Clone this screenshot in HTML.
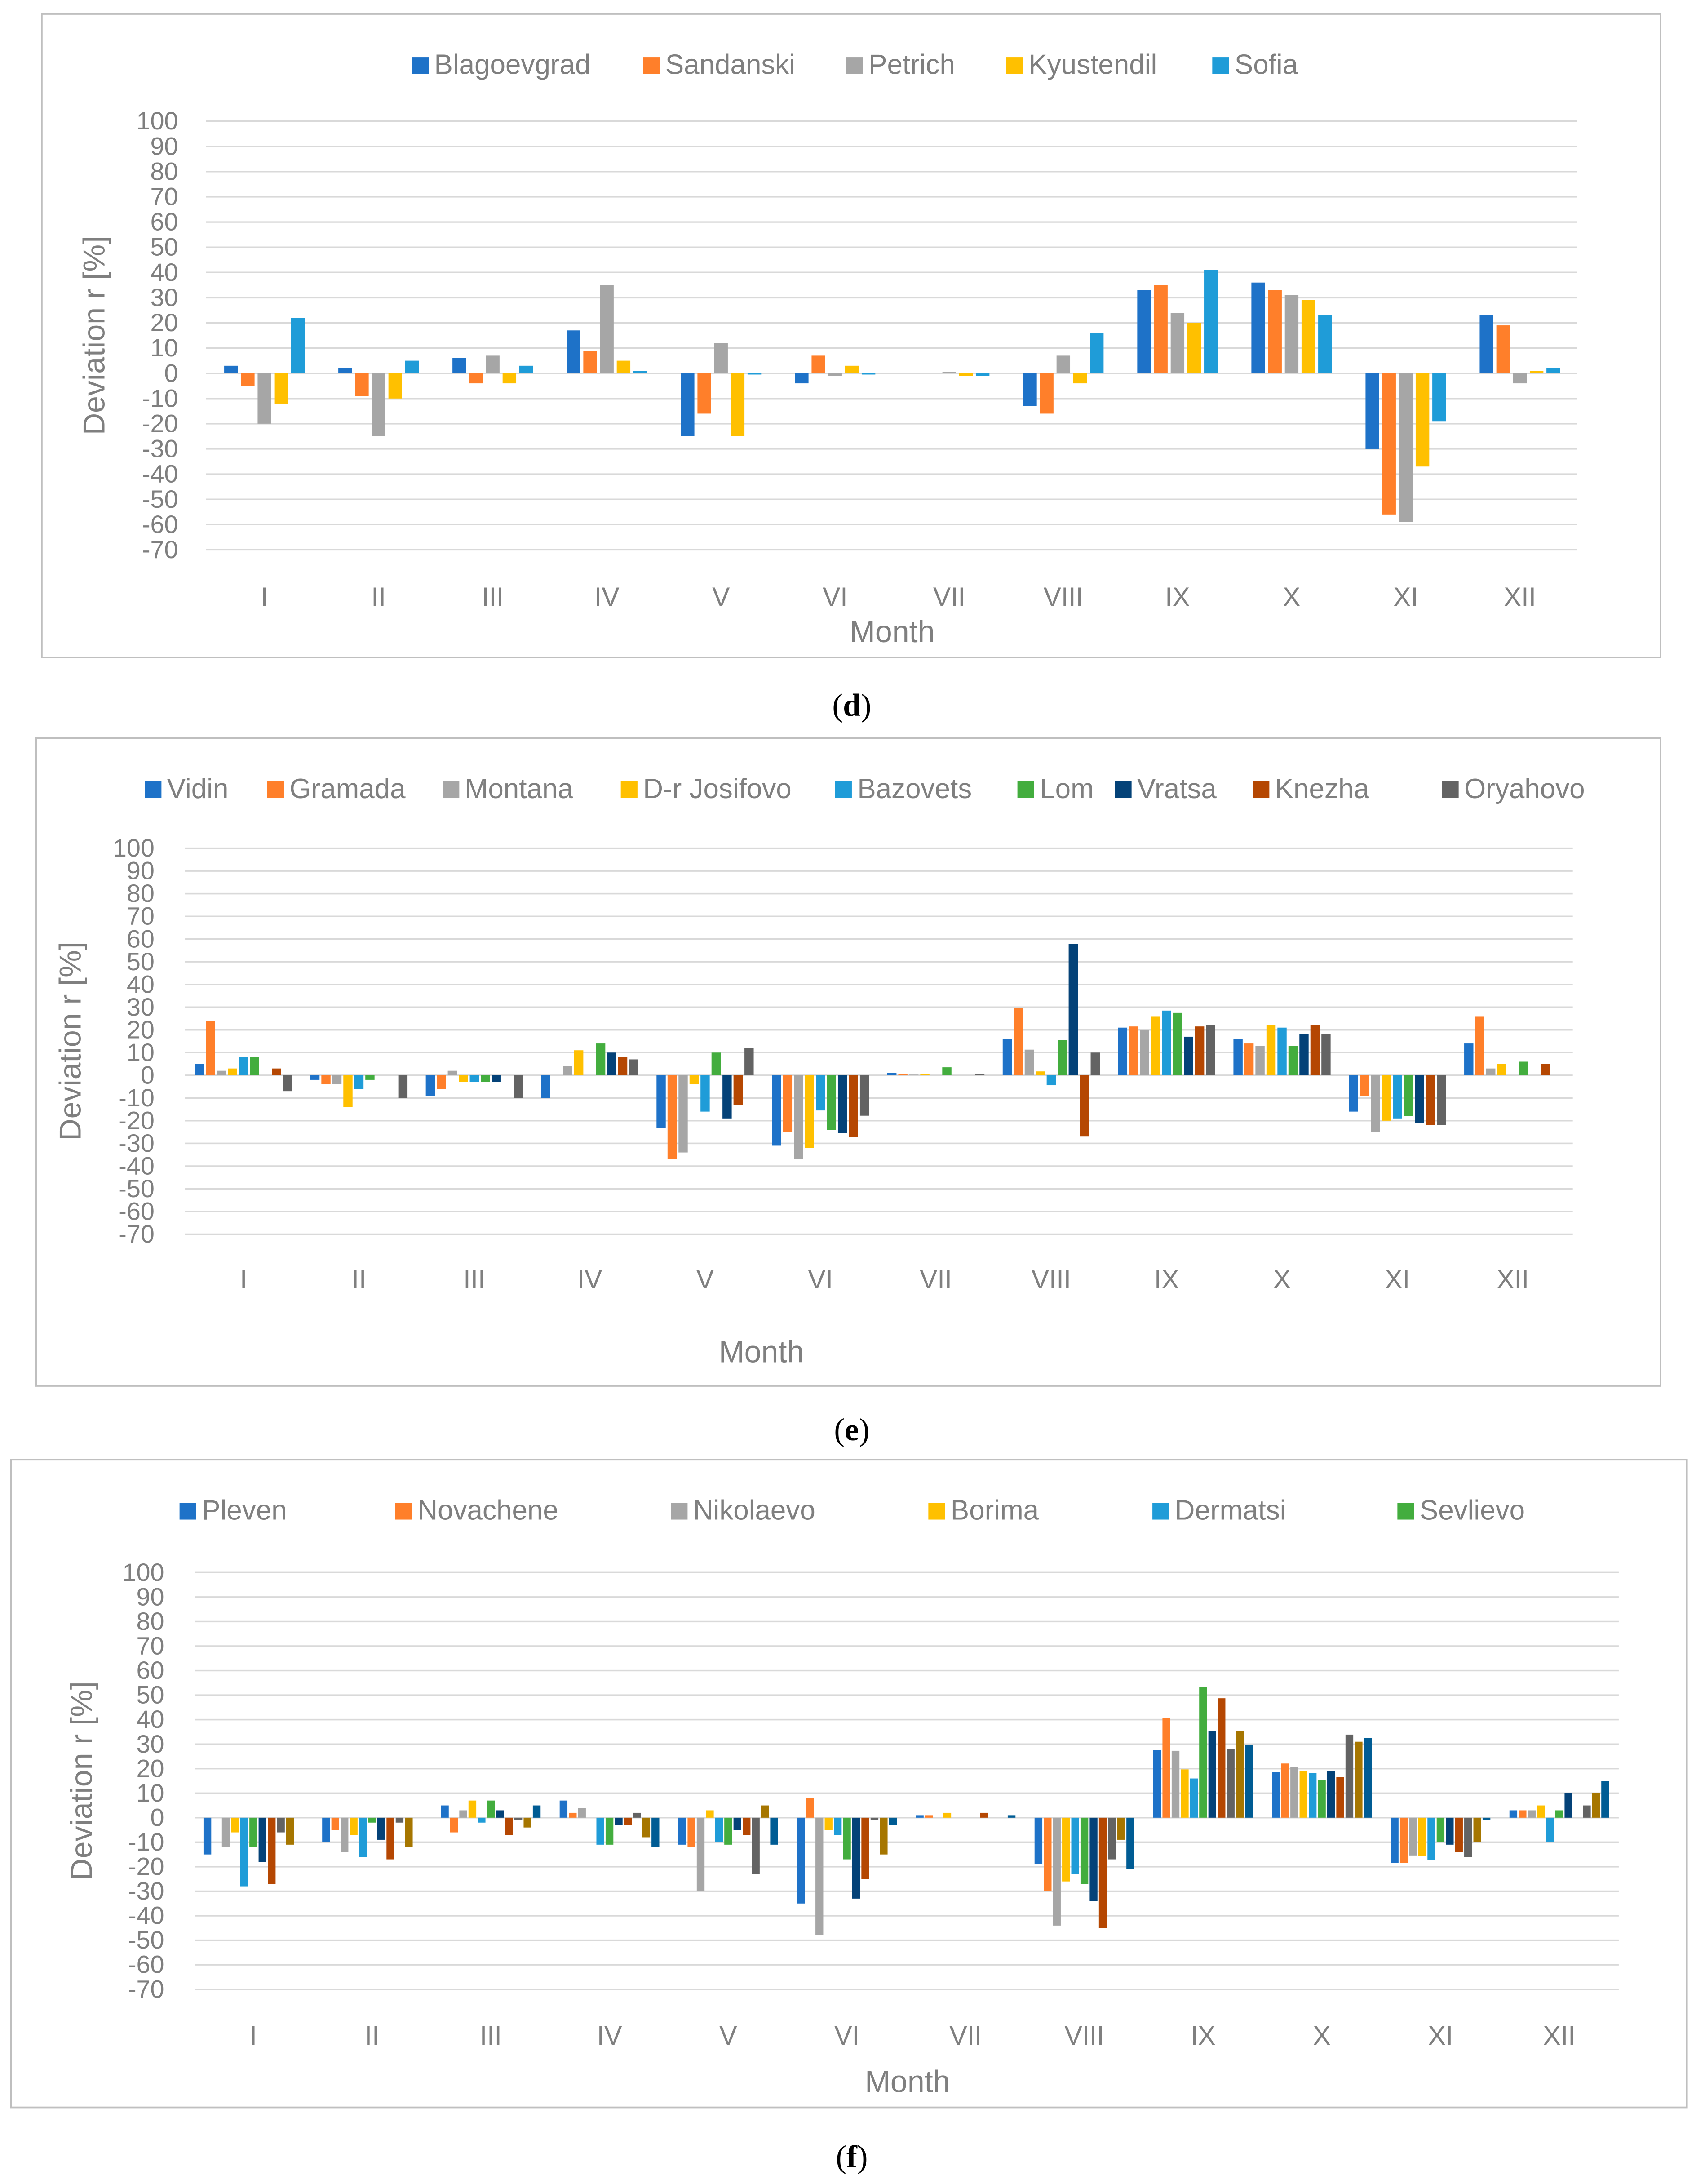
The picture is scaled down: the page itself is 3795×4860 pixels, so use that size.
<!DOCTYPE html>
<html><head><meta charset="utf-8"><style>
html,body{margin:0;padding:0;background:#fff;}
svg{display:block;}
</style></head><body>
<svg id="root" width="3795" height="4860" viewBox="0 0 1225 1568" preserveAspectRatio="none" xmlns="http://www.w3.org/2000/svg"></svg>
<script>
const months = ["I","II","III","IV","V","VI","VII","VIII","IX","X","XI","XII"];
const yTicks = [100,90,80,70,60,50,40,30,20,10,0,-10,-20,-30,-40,-50,-60,-70];

// Panel d
const dNames = ["Blagoevgrad","Sandanski","Petrich","Kyustendil","Sofia"];
const dBlagoevgrad = [3,2,6,17,-25,-4,0,-13,33,36,-30,23];
const dSandanski = [-5,-9,-4,9,-16,7,0,-16,35,33,-56,19];
const dPetrich = [-20,-25,7,35,12,-1,0.5,7,24,31,-59,-4];
const dKyustendil = [-12,-10,-4,5,-25,3,-1,-4,20,29,-37,1];
const dSofia = [22,5,3,1,-0.5,-0.5,-1,16,41,23,-19,2];

// Panel e
const eNames = ["Vidin","Gramada","Montana","D-r Josifovo","Bazovets","Lom","Vratsa","Knezha","Oryahovo"];
const eVidin = [5,-2,-9,-10,-23,-31,1,16,21,16,-16,14];
const eGramada = [24,-4,-6,0,-37,-25,0.5,29.7,21.5,14,-9,26];
const eMontana = [2,-4,2,4,-34,-37,0.3,11.3,20,13,-25,3];
const eJosifovo = [3,-14,-3,11,-4,-32,0.5,1.7,26,22,-20,5];
const eBazovets = [8,-6,-3,0,-16,-15.5,0,-4.4,28.5,21,-19,0];
const eLom = [8,-2,-3,14,10,-24,3.5,15.5,27.5,13,-18,6];
const eVratsa = [0,0,-3,10,-19,-25.4,0,57.8,17,18,-21,0];
const eKnezha = [3,0,0,8,-13,-27.3,0,-27,21.5,22,-22,5];
const eOryahovo = [-7,-10,-10,7,12,-17.8,0.6,10,22,18,-22,0];

// Panel f
const fNames = ["Pleven","Novachene","Nikolaevo","Borima","Dermatsi","Sevlievo"];
const fS1 = [-15,-10,5,7,-11,-35,1,-19,27.6,18.5,-18.4,3];
const fS2 = [0,-5,-6,2,-12,8,1,-30,40.8,22.1,-18.4,3];
const fS3 = [-12,-14,3,4,-30,-48,0,-44,27.3,20.8,-15.4,3];
const fS4 = [-6,-7,7,0,3,-5,2,-26,19.7,19.2,-15.6,5];
const fS5 = [-28,-16,-2,-11,-10,-7,0,-23,16,18.3,-17.2,-10];
const fS6 = [-12,-2,7,-11,-11,-17,0,-27,53.3,15.5,-10,3];
const fS7 = [-18,-9,3,-3,-5,-33,0,-34,35.4,19,-11,10];
const fS8 = [-27,-17,-7,-3,-7,-25,2,-45,48.7,16.6,-14,0];
const fS9 = [-6,-2,-1,2,-23,-1,0,-17,28.2,33.9,-16,5];
const fS10 = [-11,-12,-4,-8,5,-15,0,-9,35.2,31,-10,10];
const fS11 = [0,0,5,-12,-11,-3,1,-21,29.5,32.6,-1,15];

const COLORS = ["#1e72c8","#ff7f2a","#a6a6a6","#ffc000","#1f9cd8","#43ad3e","#044278","#b54702","#636363","#a67600","#005c94"];
const NS = "http://www.w3.org/2000/svg";
const SANS = '"Liberation Sans", sans-serif';
const root = document.getElementById('root');
function mk(tag, attrs, parent, text){
  const e = document.createElementNS(NS, tag);
  for (const k in attrs) e.setAttribute(k, attrs[k]);
  if (text !== undefined) e.textContent = text;
  (parent||root).appendChild(e);
  return e;
}

function panel(cfg){
  const g = mk('g', {'font-family':SANS});
  
  
  const box = mk('rect', {x:cfg.box[0], y:cfg.box[1], width:cfg.box[2]-cfg.box[0], height:cfg.box[3]-cfg.box[1], fill:'#fff', stroke:'#bfbfbf', 'stroke-width':1.2}, g);
  
  
  const yScale = v => cfg.y0 + (cfg.y100 - cfg.y0) * (v/100);
  const xCenter = i => cfg.xFirst + i*cfg.step;
  yTicks.forEach(t => {
    const ln = mk('line', {x1:cfg.plotL, x2:cfg.plotR, y1:yScale(t), y2:yScale(t), stroke:'#d9d9d9', 'stroke-width':1.1}, g);
    
    
    const tx = mk('text', {x:cfg.tickX, y:yScale(t)+6, 'text-anchor':'end', 'font-size':18, fill:'#7f7f7f'}, g, String(t));
    
    
  });
  const n = cfg.series.length;
  cfg.series.forEach((vals, s) => {
    vals.forEach((v, i) => {
      const x = xCenter(i) - n*cfg.pitch/2 + s*cfg.pitch + (cfg.pitch-cfg.bw)/2;
      const y1 = yScale(Math.max(v,0)), y2 = yScale(Math.min(v,0));
      const r = mk('rect', {x:x, y:y1, width:cfg.bw, height:Math.max(y2-y1,0), fill:COLORS[s]}, g);
      
      
    });
  });
  months.forEach((m,i) => {
    const t = mk('text', {x:xCenter(i), y:cfg.monthY, 'text-anchor':'middle', 'font-size':19, fill:'#7f7f7f'}, g, m);
    
    
  });
  const xt = mk('text', {x:cfg.xTitleX, y:cfg.xTitleY, 'text-anchor':'middle', 'font-size':22, fill:'#7f7f7f'}, g, 'Month');
  
  
  const ymid = (yScale(100)+yScale(-70))/2;
  const yt = mk('text', {x:cfg.yTitleX, y:ymid, 'text-anchor':'middle', 'font-size':22, fill:'#7f7f7f', transform:`rotate(-90 ${cfg.yTitleX} ${ymid})`}, g, 'Deviation r [%]');
  
  
  cfg.legendX.forEach((lx, k) => {
    const sq = mk('rect', {x:lx, y:cfg.legendY-7, width:12, height:12, fill:COLORS[k]}, g);
    
    
    const lt = mk('text', {x:lx+16, y:cfg.legendY+5, 'font-size':20, fill:'#7f7f7f'}, g, cfg.names[k]);
    
    
  });
  const cap = mk('text', {x:cfg.capX, y:cfg.capY, 'text-anchor':'middle', 'font-size':23, fill:'#000', 'font-family':'"Liberation Serif", serif'}, root);
  
  
  mk('tspan', {}, cap, '(');
  mk('tspan', {'font-weight':'bold'}, cap, cfg.letter);
  mk('tspan', {}, cap, ')');
}

panel({id:'chart-d', box:[30,10,1193,472], y0:268, y100:87, plotL:148, plotR:1133, xFirst:190, step:82,
  series:[dBlagoevgrad,dSandanski,dPetrich,dKyustendil,dSofia], names:dNames, pitch:12, bw:9.8,
  tickX:128, monthY:435, xTitleX:641, xTitleY:461, yTitleX:75,
  legendX:[296,462,608,723,871], legendY:48, capX:612, capY:514, letter:'d'});
panel({id:'chart-e', box:[26,530,1193,995], y0:772, y100:609, plotL:133, plotR:1130, xFirst:175, step:82.9,
  series:[eVidin,eGramada,eMontana,eJosifovo,eBazovets,eLom,eVratsa,eKnezha,eOryahovo], names:eNames, pitch:7.9, bw:6.6,
  tickX:111, monthY:925, xTitleX:547, xTitleY:978, yTitleX:58,
  legendX:[104,192,318,446,600,731,801,900,1036], legendY:568, capX:612, capY:1034, letter:'e'});
panel({id:'chart-f', box:[8,1048,1212,1513], y0:1305, y100:1129, plotL:140, plotR:1163, xFirst:182, step:85.3,
  series:[fS1,fS2,fS3,fS4,fS5,fS6,fS7,fS8,fS9,fS10,fS11], names:fNames, pitch:6.6, bw:5.6,
  tickX:118, monthY:1468, xTitleX:652, xTitleY:1502, yTitleX:66,
  legendX:[129,284,482,667,828,1004], legendY:1086, capX:612, capY:1556, letter:'f'});
</script>
</body></html>
